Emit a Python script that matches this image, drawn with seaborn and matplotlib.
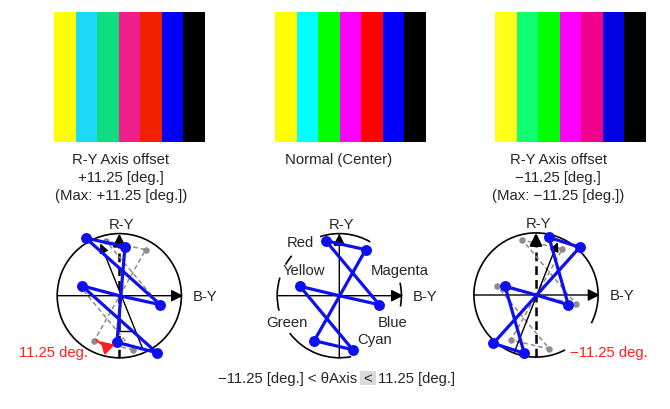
import matplotlib
matplotlib.use("Agg")
import matplotlib.pyplot as plt
import seaborn as sns
from matplotlib.patches import Arc, Rectangle

sns.set_style("white")
plt.rcParams['font.family'] = ['Liberation Sans', 'DejaVu Sans']

# color bar columns (yellow .. black)
bar_idx = [0, 1, 2, 3, 4, 5, 6]
bar_height = [1, 1, 1, 1, 1, 1, 1]
bars_plus = ["#FFFF00", "#1ED8F8", "#10DC82", "#F0208A", "#F02000", "#0000F8", "#000000"]
bars_normal = ["#FFFF00", "#00FFFF", "#00FF00", "#FF00FF", "#FF0000", "#0000FF", "#000000"]
bars_minus = ["#FFFF1A", "#10FF70", "#00FF00", "#FF00FF", "#F0008C", "#0000E0", "#000000"]

# vectorscope points (B-Y, R-Y), trace order
vec_names = ["Yellow", "Cyan", "Green", "Magenta", "Red", "Blue"]
normal_by = [-0.437, 0.149, -0.278, 0.293, -0.151, 0.444]
normal_ry = [0.104, -0.600, -0.500, 0.511, 0.611, -0.100]
plus_by = [-0.418, 0.416, -0.026, 0.063, -0.373, 0.456]
plus_ry = [0.111, -0.633, -0.518, 0.544, 0.641, -0.100]
minus_by = [-0.344, -0.130, -0.474, 0.486, 0.144, 0.359]
minus_ry = [0.097, -0.648, -0.537, 0.530, 0.641, -0.108]

# tilted R-Y axis (bottom end, top end)
tilt_plus = [(0.256, -0.58), (-0.21, 0.58)]
tilt_minus = [(-0.241, -0.637), (0.241, 0.586)]

W, H = 670, 410
fig = plt.figure(figsize=(6.7, 4.1), dpi=100)

BLUE = "#0E10F0"
RED = "#FF2020"
R = 0.69
fs = 10.7


def px_axes(x0, y0, w, h):
    return fig.add_axes([x0 / W, 1 - (y0 + h) / H, w / W, h / H])


def color_bars(x0, colors):
    ax = px_axes(x0, 12.7, 150.5, 130)
    sns.barplot(x=bar_idx, y=bar_height, hue=bar_idx, palette=colors, width=1,
                saturation=1, linewidth=0, legend=False, ax=ax)
    ax.set_xlim(-0.5, 6.5)
    ax.set_ylim(0, 1)
    ax.axis("off")


color_bars(54.2, bars_plus)
color_bars(275.3, bars_normal)
color_bars(495.3, bars_minus)

fig.text(120.8 / W, 1 - 160 / H, "R-Y Axis offset", ha="center", va="center", fontsize=fs)
fig.text(120.8 / W, 1 - 178 / H, "+11.25 [deg.]", ha="center", va="center", fontsize=fs)
fig.text(120.8 / W, 1 - 196 / H, "(Max: +11.25 [deg.])", ha="center", va="center", fontsize=fs)
fig.text(338.3 / W, 1 - 160 / H, "Normal (Center)", ha="center", va="center", fontsize=fs)
fig.text(558.3 / W, 1 - 160 / H, "R-Y Axis offset", ha="center", va="center", fontsize=fs)
fig.text(558.3 / W, 1 - 178 / H, "\u221211.25 [deg.]", ha="center", va="center", fontsize=fs)
fig.text(558.3 / W, 1 - 196 / H, "(Max: \u221211.25 [deg.])", ha="center", va="center", fontsize=fs)


def scope(cx, cy):
    ax = px_axes(cx - 100, cy - 80, 200, 160)
    ax.set_xlim(-100 / 90, 100 / 90)
    ax.set_ylim(-80 / 90, 80 / 90)
    ax.axis("off")
    return ax


def arrow(ax, start, end, lw=1.0, head=12, color="black"):
    ax.annotate("", xy=end, xytext=start,
                arrowprops=dict(arrowstyle="-|>,head_length=0.6,head_width=0.3",
                                color=color, lw=lw, shrinkA=0, shrinkB=0,
                                mutation_scale=head))


def axes_lines(ax, dashed=False):
    arrow(ax, (-R, 0), (0.71, 0), lw=1.0)
    if dashed:
        ax.plot([0, 0], [-R, 0.6], color="black", lw=1.8, dashes=[3.5, 2], zorder=2)
        arrow(ax, (0, 0.55), (0, 0.69), lw=1.8)
    else:
        arrow(ax, (0, -R), (0, 0.69), lw=1.0)
    ax.text(0.03, 0.80, "R-Y", ha="center", va="center", fontsize=fs)
    ax.text(0.82, 0.0, "B-Y", ha="left", va="center", fontsize=fs)


def trace(ax, bx, ry, color, lw, ms, dashed=False, z=3):
    xs = [0] + list(bx) + [0]
    ys = [0] + list(ry) + [0]
    if dashed:
        ax.plot(xs, ys, color=color, lw=lw, dashes=[3, 2], zorder=z)
    else:
        ax.plot(xs, ys, color=color, lw=lw, zorder=z, solid_capstyle="round")
    sns.scatterplot(x=bx, y=ry, color=color, s=ms, linewidth=0, ax=ax, zorder=z + 0.5)


def tilted(ax, pts):
    (x0, y0), (x1, y1) = pts
    ax.annotate("", xy=(x1, y1), xytext=(x0, y0),
                arrowprops=dict(arrowstyle="-|>,head_length=0.6,head_width=0.3",
                                color="black", lw=1.0, shrinkA=0, shrinkB=0,
                                mutation_scale=9))


# left scope (+11.25)
axL = scope(119.3, 296.7)
axL.add_patch(Arc((0, 0), 2 * R, 2 * R, lw=1.2, color="black"))
axes_lines(axL, dashed=True)
tilted(axL, tilt_plus)
axL.plot([0, 0.14], [-0.39, -0.39], color="black", lw=1.0)
trace(axL, normal_by, normal_ry, "#8C8C8C", 1.1, 22, dashed=True, z=2.5)
trace(axL, plus_by, plus_ry, BLUE, 2.3, 62)
axL.annotate("", xy=(-0.05, -0.545), xytext=(-0.255, -0.49),
             arrowprops=dict(arrowstyle="-|>,head_length=0.7,head_width=0.4",
                             color=RED, lw=1.5, shrinkA=0, shrinkB=0,
                             mutation_scale=10, connectionstyle="arc3,rad=0.3"),
             zorder=6)
axL.text(-0.344, -0.629, "11.25 deg.", color=RED, ha="right", va="center", fontsize=fs)

# center scope (normal)
axC = scope(339.3, 296.7)
for t1, t2 in [(60, 108), (-10, 12), (-143, -79), (163, 194), (140, 150)]:
    axC.add_patch(Arc((0, 0), 2 * R, 2 * R, theta1=t1, theta2=t2, lw=1.2, color="black"))
axes_lines(axC)
trace(axC, normal_by, normal_ry, BLUE, 2.3, 62)
center_labels = {"Red": (-0.428, 0.593), "Yellow": (-0.39, 0.288),
                 "Magenta": (0.674, 0.288), "Green": (-0.584, -0.296),
                 "Blue": (0.591, -0.287), "Cyan": (0.397, -0.481)}
for name, (lx, ly) in center_labels.items():
    axC.text(lx, ly, name, ha="center", va="center", fontsize=fs)

# right scope (-11.25)
axR = scope(536, 296)
axR.add_patch(Arc((0, 0), 2 * R, 2 * R, theta1=-27, theta2=298, lw=1.2, color="black"))
axes_lines(axR, dashed=True)
tilted(axR, tilt_minus)
trace(axR, normal_by, normal_ry, "#8C8C8C", 1.1, 22, dashed=True, z=2.5)
trace(axR, minus_by, minus_ry, BLUE, 2.3, 62)
axR.text(0.378, -0.636, "\u221211.25 deg.", color=RED, ha="left", va="center", fontsize=fs)

# bottom condition line
fig.patches.append(Rectangle((360 / W, 1 - 386 / H), 15.5 / W, 14 / H,
                             transform=fig.transFigure, facecolor="#D9D9D9",
                             edgecolor="none", zorder=0))
fig.text(357 / W, 1 - 379 / H, "\u221211.25 [deg.] < \u03b8Axis", ha="right", va="center", fontsize=fs)
fig.text(367.7 / W, 1 - 379 / H, "<", ha="center", va="center", fontsize=fs)
fig.text(378 / W, 1 - 379 / H, "11.25 [deg.]", ha="left", va="center", fontsize=fs)

fig.savefig("out.png", dpi=100)
